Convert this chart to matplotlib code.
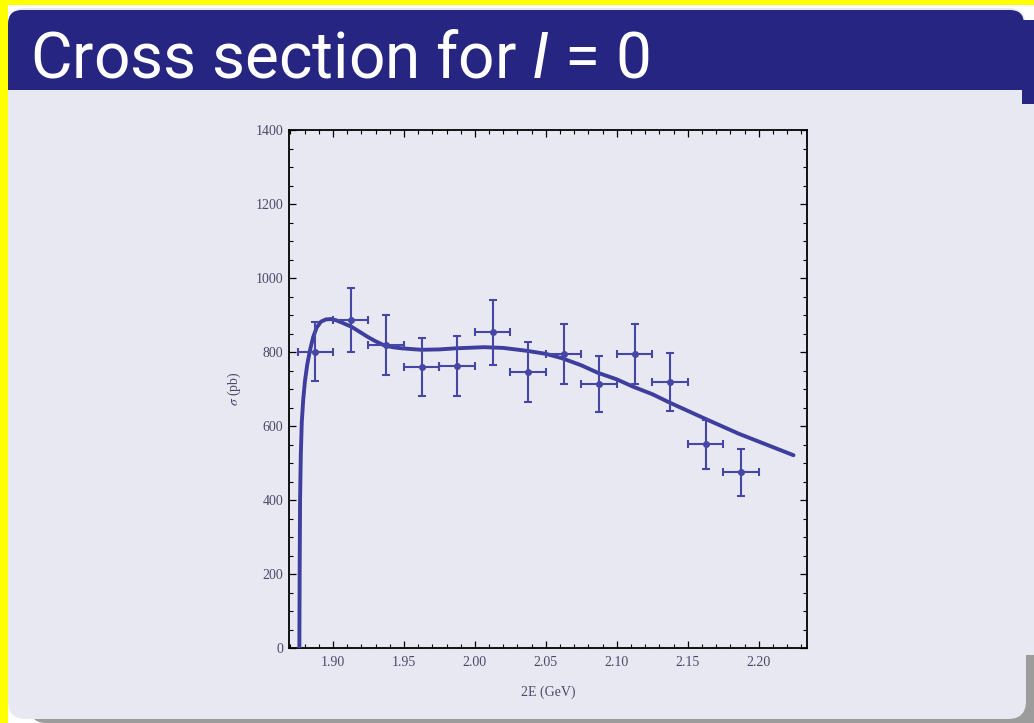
import numpy as np
import matplotlib
matplotlib.use('Agg')
import matplotlib.pyplot as plt
from matplotlib.patches import FancyBboxPatch, Rectangle
from matplotlib.ticker import MultipleLocator, FixedLocator, FormatStrFormatter
from matplotlib.colors import LinearSegmentedColormap

# ---------------- data ----------------
energy = [1.8875, 1.9125, 1.9375, 1.9625, 1.9875, 2.0125, 2.0375,
          2.0625, 2.0875, 2.1125, 2.1375, 2.1625, 2.1875]
energy_err = [0.0125] * 13
sigma = [801, 886, 819, 759, 762, 853, 747, 795, 713, 795, 718, 551, 475]
sigma_err = [80, 86, 81, 79, 82, 87, 81, 81, 76, 81, 78, 66, 64]

curve_E = [1.8763, 1.8765, 1.8768, 1.8773, 1.8780, 1.8790, 1.8802, 1.8818,
           1.8838, 1.8860, 1.8885, 1.8915, 1.8950, 1.8985, 1.9020, 1.9060,
           1.9131, 1.9190, 1.9248, 1.9300, 1.9355, 1.9420, 1.9482, 1.9622,
           1.9750, 1.9867, 2.0066, 2.0200, 2.0370, 2.0500, 2.0615, 2.0750,
           2.0865, 2.1000, 2.1116, 2.1250, 2.1368, 2.1614, 2.1860, 2.2245]
curve_sigma = [0, 200, 400, 520, 610, 670, 720, 765,
               805, 840, 866, 882, 888, 889, 886, 880,
               868, 854, 840, 829, 819, 813, 810, 806,
               807, 810, 813, 811, 803, 795, 783, 764,
               744, 726, 706, 686, 664, 621, 579, 521]

xticks = [1.90, 1.95, 2.00, 2.05, 2.10, 2.15, 2.20]
yticks = [0, 200, 400, 600, 800, 1000, 1200, 1400]

title_text = 'Cross section for $I$ = 0'
xlabel_text = '2E (GeV)'
ylabel_text = r'$\sigma$ (pb)'

# ---------------- style ----------------
plt.rcParams['mathtext.fontset'] = 'custom'
plt.rcParams['mathtext.rm'] = 'Roboto'
plt.rcParams['mathtext.it'] = 'Roboto:italic'

YELLOW = '#ffff00'
LAV = '#e8e8f2'
BLUE = '#262682'
LINE = '#3e3e9e'
PT = '#4646a6'
LABC = '#4a4a68'

W, H = 1034, 723
fig = plt.figure(figsize=(W / 100, H / 100), dpi=100)
fig.patch.set_facecolor(YELLOW)

bg = fig.add_axes([0, 0, 1, 1], zorder=0)
bg.axis('off')

bg.add_patch(Rectangle((8, 5), W - 8, H - 5, fc='white', ec='none'))
bg.add_patch(FancyBboxPatch((30, 620), 1100, 103,
                            boxstyle='round,pad=0,rounding_size=16',
                            fc='#9c9c9c', ec='none'))
bg.add_patch(FancyBboxPatch((8, 8), 1018, 711,
                            boxstyle='round,pad=0,rounding_size=18',
                            fc=LAV, ec='none'))
bg.add_patch(Rectangle((1020, 100), 14, 555, fc=LAV, ec='none'))

# title bar
bg.add_patch(FancyBboxPatch((8, 10), 1016, 80,
                            boxstyle='round,pad=0,rounding_size=14',
                            fc=BLUE, ec='none'))
bg.add_patch(Rectangle((8, 50), 1016, 40, fc=BLUE, ec='none'))
bg.add_patch(Rectangle((1022, 20), 12, 84, fc=BLUE, ec='none'))
cmap = LinearSegmentedColormap.from_list('g', [BLUE, LAV])
grad = np.linspace(0, 1, 20).reshape(-1, 1)
bg.imshow(grad, cmap=cmap, extent=(8, 1022, 99, 88), aspect='auto',
          interpolation='bilinear', origin='upper')

bg.text(30, 77, title_text, color='white', fontsize=46, family='Roboto',
        ha='left', va='baseline')

bg.set_xlim(0, W)
bg.set_ylim(H, 0)

# ---------------- plot ----------------
ax = fig.add_axes([289 / W, 1 - 648 / H, (807 - 289) / W, (648 - 130) / H],
                  zorder=2)
ax.patch.set_alpha(0)

ax.plot(curve_E, curve_sigma, color=LINE, lw=2.8, solid_capstyle='round',
        solid_joinstyle='round', zorder=3)
ax.errorbar(energy, sigma, xerr=energy_err, yerr=sigma_err, fmt='o', ms=4,
            color=PT, ecolor=PT, elinewidth=1.5, capsize=2.8, capthick=1.5,
            zorder=4)

ax.set_xlim(1.869, 2.234)
ax.set_ylim(0, 1400)

ax.xaxis.set_major_locator(FixedLocator(xticks))
ax.xaxis.set_minor_locator(MultipleLocator(0.01))
ax.xaxis.set_major_formatter(FormatStrFormatter('%.2f'))
ax.yaxis.set_major_locator(FixedLocator(yticks))
ax.yaxis.set_minor_locator(MultipleLocator(50))

ax.tick_params(which='both', direction='in', top=True, right=True,
               color='black', labelcolor=LABC, labelsize=10)
ax.tick_params(which='major', length=5, width=0.9)
ax.tick_params(which='minor', length=3, width=0.8)
ax.tick_params(axis='x', pad=6)
ax.tick_params(axis='y', pad=4)
for lab in ax.get_xticklabels() + ax.get_yticklabels():
    lab.set_family('Liberation Serif')
for sp in ax.spines.values():
    sp.set_linewidth(1.3)
    sp.set_color('black')

ax.set_xlabel(xlabel_text, family='Liberation Serif', fontsize=10,
              color=LABC, labelpad=12)
ax.set_ylabel(ylabel_text, family='Liberation Serif', fontsize=10,
              color=LABC, labelpad=9, math_fontfamily='stix')

fig.savefig('out.png', dpi=100, facecolor=fig.get_facecolor())
